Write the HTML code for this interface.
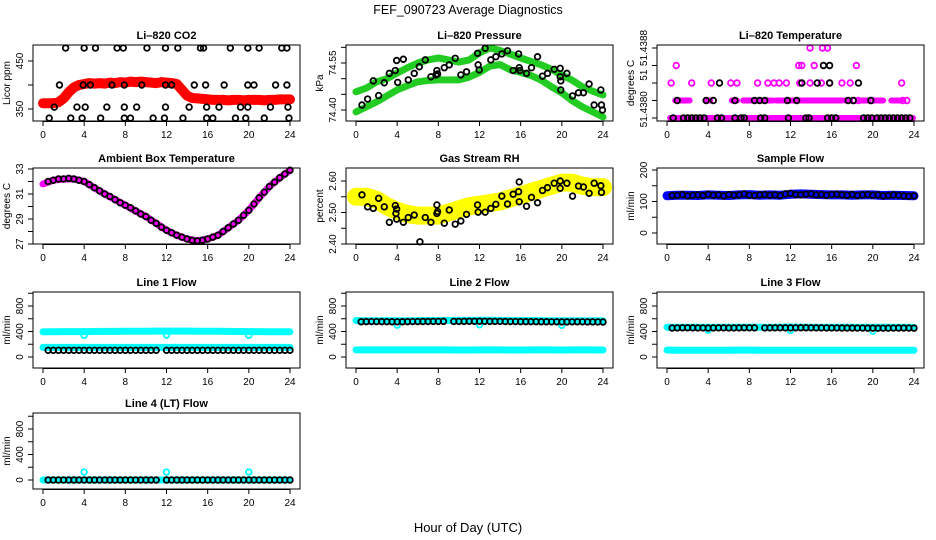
<!DOCTYPE html>
<html><head><meta charset="utf-8">
<style>
html,body{margin:0;padding:0;background:#fff;}
svg{display:block;font-family:"Liberation Sans",Arial,sans-serif;}
</style></head>
<body>
<svg id="chart" width="936" height="540" viewBox="0 0 936 540" xmlns="http://www.w3.org/2000/svg">
<rect x="0" y="0" width="936" height="540" fill="#fff"/>
<text x="468" y="14" text-anchor="middle" font-size="12.5">FEF_090723  Average Diagnostics</text>
<text x="468" y="532" text-anchor="middle" font-size="13">Hour of Day (UTC)</text>
</svg>
<script>
// ---------- data ----------
const hours=[0,1,2,3,4,5,6,7,8,9,10,11,12,13,14,15,16,17,18,19,20,21,22,23,24];
const halfHours=[0.5,1,1.5,2,2.5,3,3.5,4,4.5,5,5.5,6,6.5,7,7.5,8,8.5,9,9.5,10,10.5,11,11.5,12,12.5,13,13.5,14,14.5,15,15.5,16,16.5,17,17.5,18,18.5,19,19.5,20,20.5,21,21.5,22,22.5,23,23.5,24];
const bandHalfHours=[0,0.5,1,1.5,2,2.5,3,3.5,4,4.5,5,5.5,6,6.5,7,7.5,8,8.5,9,9.5,10,10.5,11,11.5,12,12.5,13,13.5,14,14.5,15,15.5,16,16.5,17,17.5,18,18.5,19,19.5,20,20.5,21,21.5,22,22.5,23,23.5,24];
const xTicks=[0,4,8,12,16,20,24];

const co2Band=[362,362,362,364,372,385,395,400,402,404,403,404,403,405,404,406,405,407,406,407,406,405,404,406,405,404,402,390,378,373,372,371,370,369,369,369,368,369,369,368,369,369,369,368,369,369,370,370,370];
const co2L1Hours=[2.2,4.0,5.1,7.2,7.8,10.1,11.9,13.1,15.3,15.6,18.2,19.9,21.0,23.2,23.7];
const co2L2Hours=[1.6,3.9,4.6,6.7,7.9,9.6,11.9,12.5,14.7,15.8,17.6,19.9,20.5,22.6,23.7];
const co2L3Hours=[1.1,3.3,4.1,6.2,7.9,9.1,11.9,14.2,15.9,17.1,19.2,19.9,22.1,23.8];
const co2L4Hours=[0.6,2.7,3.8,5.6,7.9,8.5,10.7,11.8,13.6,15.9,16.5,18.7,19.7,21.5,23.9];
const co2Levels=[477,400,354,331];

const presUpper=[74.458,74.47,74.49,74.50,74.518,74.535,74.55,74.56,74.566,74.56,74.553,74.56,74.582,74.598,74.59,74.578,74.566,74.555,74.544,74.53,74.512,74.495,74.474,74.46,74.448];
const presLower=[74.394,74.41,74.426,74.445,74.464,74.478,74.49,74.494,74.496,74.496,74.496,74.505,74.52,74.54,74.545,74.528,74.52,74.51,74.495,74.474,74.455,74.43,74.41,74.394,74.378];
const presPtHours=[0.58,1.13,1.68,2.2,2.75,3.24,3.82,3.95,4.05,4.6,5.08,5.66,6.15,6.73,7.28,7.77,7.93,7.86,8.58,9.06,9.64,10.19,10.74,11.81,11.87,11.97,12.55,13.1,13.59,14.17,14.72,15.27,15.8,15.86,15.92,16.57,17.05,17.64,18.12,18.61,19.26,19.84,19.84,19.9,19.9,20.49,21.04,21.62,22.1,22.65,23.14,23.79,23.85,23.95];
const presPtVals=[74.416,74.435,74.493,74.446,74.487,74.517,74.526,74.558,74.488,74.562,74.496,74.517,74.538,74.56,74.506,74.512,74.515,74.526,74.535,74.544,74.565,74.512,74.522,74.581,74.544,74.528,74.597,74.56,74.57,74.579,74.589,74.526,74.579,74.535,74.526,74.517,74.535,74.57,74.508,74.517,74.53,74.533,74.506,74.493,74.464,74.517,74.445,74.455,74.455,74.483,74.416,74.464,74.416,74.40];

const tempLevels=[51.4380,51.4382,51.4384,51.4386,51.4388];
const tempMagRuns0=[[0.3,23.9]];
const tempMagRuns1=[[0.8,2.2],[3.8,4.2],[6.3,6.8],[7.4,10.3],[10.6,17.0],[17.3,17.8],[18.8,19.6],[20.2,21.0],[21.8,22.7]];
const tempMagL1Pts=[18.2,18.6,19.9,22.9,23.3];
const tempMagL2Pts=[0.4,2.4,4.3,6.2,6.8,8.8,9.8,10.4,10.9,11.6,12.9,13.9,15.0,15.8,17.0,17.8,22.8];
const tempMagL3Pts=[0.9,12.8,13.1,14.3,18.4];
const tempMagL4Pts=[13.9,15.1,15.6];
const tempBlkL0=[0.6,1.6,2.0,2.4,2.8,3.2,3.6,4.9,5.3,6.6,7.2,7.5,9.1,9.5,11.8,13.5,13.8,15.6,16.0,16.4,19.1,19.5,19.9,20.4,20.8,21.2,21.6,22.0,22.4,22.8,23.2,23.6];
const tempBlkL1=[1.0,3.8,4.5,6.6,8.5,9.0,9.5,11.7,12.6,17.6,18.1,19.8];
const tempBlkL2=[5.1,13.1,14.6,15.8,18.6];
const tempBlkL3=[15.2,15.8];

const ambBand=[31.8,32.1,32.2,32.2,32.0,31.5,31.0,30.55,30.1,29.65,29.2,28.65,28.1,27.7,27.4,27.25,27.4,27.7,28.3,28.9,29.7,30.7,31.6,32.3,32.9];
const ambPts=[32.0,32.1,32.2,32.2,32.25,32.2,32.1,32.0,31.75,31.5,31.25,31.0,30.8,30.55,30.3,30.1,29.9,29.65,29.4,29.2,28.9,28.65,28.35,28.1,27.9,27.7,27.55,27.4,27.3,27.25,27.3,27.4,27.55,27.7,28.0,28.3,28.6,28.9,29.3,29.7,30.2,30.7,31.15,31.6,31.95,32.3,32.6,32.9];

const rhBand=[2.55,2.55,2.54,2.52,2.505,2.495,2.49,2.49,2.49,2.50,2.51,2.52,2.525,2.53,2.535,2.545,2.555,2.565,2.575,2.585,2.595,2.595,2.585,2.58,2.58];
const rhPtHours=[0.58,1.13,1.68,2.2,2.75,3.24,3.82,3.88,3.95,3.95,4.6,5.08,5.66,6.21,6.73,7.28,7.86,7.86,7.93,8.58,9.06,9.64,10.19,10.74,11.81,11.87,12.55,13.1,13.59,14.17,14.72,15.27,15.8,15.86,15.86,16.57,17.05,17.64,18.12,18.61,19.26,19.84,19.84,20.49,21.04,21.62,22.1,22.65,23.14,23.79,23.85];
const rhPtVals=[2.556,2.518,2.513,2.545,2.518,2.469,2.522,2.497,2.511,2.479,2.469,2.484,2.492,2.407,2.484,2.469,2.524,2.497,2.503,2.466,2.508,2.463,2.473,2.494,2.524,2.501,2.501,2.513,2.526,2.552,2.527,2.558,2.566,2.597,2.534,2.52,2.548,2.531,2.570,2.579,2.593,2.60,2.577,2.593,2.552,2.584,2.581,2.561,2.593,2.585,2.564];

const sampleBand=[118,120,120,119,121,120,119,121,122,120,121,120,123,124,123,122,121,121,120,121,121,119,120,119,118];
const samplePts=[119,120,122,118,120,121,119,123,120,121,118,122,120,121,124,120,119,121,122,120,121,119,124,126,122,121,123,124,121,122,120,122,123,121,120,122,119,121,122,120,121,118,119,121,120,118,117,118];

const line1Top=[395,396,398,398,399,400,401,402,403,404,405,406,407,407,406,405,404,403,402,400,399,398,397,396,395];
const line1Low=[150,150,151,150,150,151,150,150,151,150,150,151,150,150,151,150,150,151,150,150,151,150,150,151,150];
const line1Black=[105,105,105,105,105,105,105,105,105,105,105,105,105,105,105,105,105,105,105,105,105,105,null,105,105,105,105,105,105,105,105,105,105,105,105,105,105,105,105,105,105,105,105,105,105,105,105,105];
const line1DipHours=[4,12,20];
const line1DipVals=[340,345,340];

const line2Top=[572,570,570,571,569,570,571,572,572,573,574,574,575,575,574,573,572,572,571,570,570,569,569,568,568];
const line2Low=[112,112,111,112,112,111,112,112,111,112,110,110,111,112,111,110,110,111,112,111,110,111,112,111,110];
const line2Black=[553,555,556,556,555,554,553,552,553,555,556,556,557,557,558,558,559,null,558,558,559,560,560,561,560,559,558,558,557,556,556,555,555,555,554,553,553,552,552,551,551,552,552,552,551,551,550,549];
const line2DipHours=[4,12,20];
const line2DipVals=[500,505,498];

const line3Top=[468,468,467,468,468,467,468,469,469,468,468,469,470,469,468,468,467,468,468,467,466,466,467,466,465];
const line3Low=[108,107,107,106,106,107,107,108,108,107,106,106,107,107,106,106,107,107,106,106,105,105,106,105,105];
const line3Black=[455,456,458,458,457,456,456,455,456,457,457,456,456,457,458,458,457,null,456,457,458,458,457,457,458,459,459,458,457,457,456,456,456,455,455,455,454,454,453,453,452,452,453,454,455,455,454,453];
const line3DipHours=[4,12,20];
const line3DipVals=[420,415,405];

const line4Band=[0,0,0,0,0,0,0,0,0,0,0,0,0,0,0,0,0,0,0,0,0,0,0,0,0];
const line4Black=[0,0,0,0,0,0,0,0,0,0,0,0,0,0,0,0,0,0,0,0,0,0,null,0,0,0,0,0,0,0,0,0,0,0,0,0,0,0,0,0,0,0,0,0,0,0,0,0];
const line4DipHours=[4,12,20];
const line4DipVals=[125,125,125];

// ---------- drawing ----------
const NS='http://www.w3.org/2000/svg';
const svg=document.getElementById('chart');
const COLS=[33,346,657], ROWS=[45,168,292,413], PW=267, PH=76;
function mk(tag,attrs,parent){const e=document.createElementNS(NS,tag);for(const k in attrs)e.setAttribute(k,attrs[k]);(parent||svg).appendChild(e);return e;}

function panel(name,col,row,title,ylab,cal,yTicks,yLabels){
  const L=COLS[col],T=ROWS[row];
  const g=mk('g',{});
  
  
  const x=h=>L+10+h*(PW-20)/24;
  const y=v=>cal[1]+(v-cal[0])*(cal[3]-cal[1])/(cal[2]-cal[0]);
  const plot=mk('g',{},g);
  
  
  const frame=mk('rect',{x:L,y:T,width:PW,height:PH,fill:'none',stroke:'#000','stroke-width':1},g);
  
  
  const t=mk('text',{x:L+PW/2,y:T-6,'text-anchor':'middle','font-size':11,'font-weight':'bold'},g);
  t.textContent=title;
  
  
  for(const h of xTicks){
    const tk=mk('line',{x1:x(h),x2:x(h),y1:T+PH,y2:T+PH+5,stroke:'#000'},g);
    
    
    const tl=mk('text',{x:x(h),y:T+PH+17,'text-anchor':'middle','font-size':10},g);
    tl.textContent=String(h);
    
    
  }
  const ax=mk('line',{x1:x(0),x2:x(24),y1:T+PH+0.5,y2:T+PH+0.5,stroke:'#000'},g);
  
  
  for(const v of yTicks){
    const tk=mk('line',{x1:L-5,x2:L,y1:y(v),y2:y(v),stroke:'#000'},g);
    
    
  }
  for(const lb of yLabels){
    const yy=y(lb[0]);
    const tl=mk('text',{x:0,y:0,'text-anchor':'middle','font-size':10,transform:`translate(${L-10},${yy}) rotate(-90)`},g);
    tl.textContent=lb[1];
    
    
  }
  const yt=mk('text',{x:0,y:0,'text-anchor':'middle','font-size':10,transform:`translate(${L-23},${T+PH/2}) rotate(-90)`},g);
  yt.textContent=ylab;
  
  
  return {g:plot,x,y};
}
function band(P,hrs,vals,color,w,nm){
  const pts=[];
  hrs.forEach((h,i)=>{if(vals[i]!=null)pts.push(P.x(h).toFixed(1)+','+P.y(vals[i]).toFixed(1));});
  const pl=mk('polyline',{points:pts.join(' '),fill:'none',stroke:color,'stroke-width':w,'stroke-linejoin':'round','stroke-linecap':'round'},P.g);
  
  
}
function runs(P,rs,level,color,w,nm){
  rs.forEach(r=>{
    const ln=mk('line',{x1:P.x(r[0]),x2:P.x(r[1]),y1:P.y(level),y2:P.y(level),stroke:color,'stroke-width':w,'stroke-linecap':'round'},P.g);
    
    
  });
}
function pts(P,hrs,vals,color,nm){
  hrs.forEach((h,i)=>{
    const v=Array.isArray(vals)?vals[i]:vals;
    if(v==null)return;
    const c=mk('circle',{cx:P.x(h),cy:P.y(v),r:2.8,fill:'none',stroke:color,'stroke-width':1.8},P.g);
    
    
  });
}
const flowTicks=[0,200,400,600,800,1000], flowLabels=[[0,'0'],[400,'400'],[800,'800']];

// Li-820 CO2
let P=panel('co2-panel',0,0,'Li\u2013820 CO2','Licor ppm',[350,109,450,61],[350,400,450],[[350,'350'],[450,'450']]);
band(P,bandHalfHours,co2Band,'#ff0000',10,'co2-series');
pts(P,co2L1Hours,co2Levels[0],'#000','co2-reference-point');
pts(P,co2L2Hours,co2Levels[1],'#000','co2-reference-point');
pts(P,co2L3Hours,co2Levels[2],'#000','co2-reference-point');
pts(P,co2L4Hours,co2Levels[3],'#000','co2-reference-point');

// Pressure
P=panel('pressure-panel',1,0,'Li\u2013820 Pressure','kPa',[74.40,110,74.55,63],[74.40,74.45,74.50,74.55,74.60],[[74.40,'74.40'],[74.55,'74.55']]);
band(P,hours,presUpper,'#22cc22',7,'pressure-series-upper');
band(P,hours,presLower,'#22cc22',7,'pressure-series-lower');
pts(P,presPtHours,presPtVals,'#000','pressure-point');

// Temperature
P=panel('li820-temperature-panel',2,0,'Li\u2013820 Temperature','degrees C',[51.4380,118,51.4388,48],tempLevels,[[51.4381,'51.4380'],[51.43849,'51'],[51.4388,'51.4388']]);
runs(P,tempMagRuns0,tempLevels[0],'#ff00ff',6,'temperature-series');
runs(P,tempMagRuns1,tempLevels[1],'#ff00ff',6,'temperature-series');
pts(P,tempMagL1Pts,tempLevels[1],'#ff00ff','temperature-point');
pts(P,tempMagL2Pts,tempLevels[2],'#ff00ff','temperature-point');
pts(P,tempMagL3Pts,tempLevels[3],'#ff00ff','temperature-point');
pts(P,tempMagL4Pts,tempLevels[4],'#ff00ff','temperature-point');
pts(P,tempBlkL0,tempLevels[0],'#000','temperature-reference-point');
pts(P,tempBlkL1,tempLevels[1],'#000','temperature-reference-point');
pts(P,tempBlkL2,tempLevels[2],'#000','temperature-reference-point');
pts(P,tempBlkL3,tempLevels[3],'#000','temperature-reference-point');

// Ambient
P=panel('ambient-temperature-panel',0,1,'Ambient Box Temperature','degrees C',[27,244,33,169],[27,28,29,30,31,32,33],[[27,'27'],[29,'29'],[31,'31'],[33,'33']]);
band(P,hours,ambBand,'#ff00ff',7,'ambient-series');
pts(P,halfHours,ambPts,'#000','ambient-point');

// RH
P=panel('gas-rh-panel',1,1,'Gas Stream RH','percent',[2.40,244,2.60,181],[2.40,2.45,2.50,2.55,2.60],[[2.40,'2.40'],[2.50,'2.50'],[2.60,'2.60']]);
band(P,hours,rhBand,'#ffff00',18,'rh-series');
pts(P,rhPtHours,rhPtVals,'#000','rh-point');

// Sample flow
P=panel('sample-flow-panel',2,1,'Sample Flow','ml/min',[0,233,200,170],[0,50,100,150,200],[[0,'0'],[100,'100'],[200,'200']]);
band(P,hours,sampleBand,'#0000ff',9,'sample-flow-series');
pts(P,halfHours,samplePts,'#000','sample-flow-point');

// Line 1
P=panel('line1-flow-panel',0,2,'Line 1 Flow','ml/min',[0,357,800,306],flowTicks,flowLabels);
band(P,hours,line1Top,'#00ffff',7,'line1-series-high');
band(P,hours,line1Low,'#00ffff',7,'line1-series-low');
pts(P,line1DipHours,line1DipVals,'#00ffff','line1-dip-point');
pts(P,halfHours,line1Black,'#000','line1-point');

// Line 2
P=panel('line2-flow-panel',1,2,'Line 2 Flow','ml/min',[0,357,800,306],flowTicks,flowLabels);
band(P,hours,line2Top,'#00ffff',7,'line2-series-high');
band(P,hours,line2Low,'#00ffff',7,'line2-series-low');
pts(P,line2DipHours,line2DipVals,'#00ffff','line2-dip-point');
pts(P,halfHours,line2Black,'#000','line2-point');

// Line 3
P=panel('line3-flow-panel',2,2,'Line 3 Flow','ml/min',[0,357,800,306],flowTicks,flowLabels);
band(P,hours,line3Top,'#00ffff',7,'line3-series-high');
band(P,hours,line3Low,'#00ffff',7,'line3-series-low');
pts(P,line3DipHours,line3DipVals,'#00ffff','line3-dip-point');
pts(P,halfHours,line3Black,'#000','line3-point');

// Line 4
P=panel('line4-flow-panel',0,3,'Line 4 (LT) Flow','ml/min',[0,480,800,429],flowTicks,flowLabels);
band(P,hours,line4Band,'#00ffff',7,'line4-series');
pts(P,line4DipHours,line4DipVals,'#00ffff','line4-dip-point');
pts(P,halfHours,line4Black,'#000','line4-point');
</script>
</body></html>
